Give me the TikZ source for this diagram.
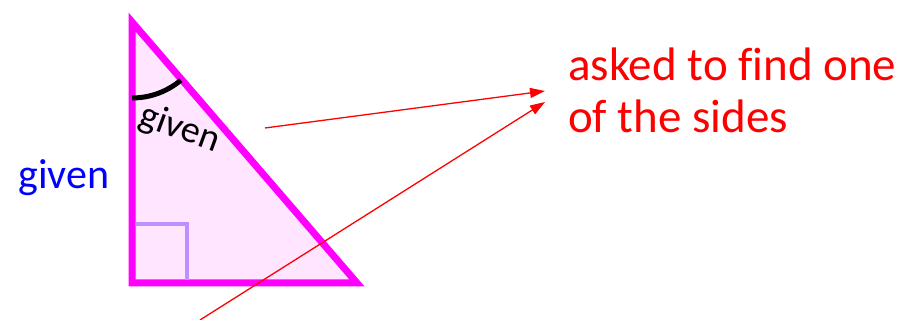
\documentclass[tikz,border=0pt]{standalone}
\usepackage{fontspec}
\setmainfont{Carlito}
\usetikzlibrary{arrows.meta,positioning,calc}

\definecolor{triedge}{RGB}{255,0,255}
\definecolor{trifill}{RGB}{255,229,255}
\definecolor{rightmark}{RGB}{191,143,255}

\begin{document}
\begin{tikzpicture}[x=1pt,y=1pt,>={Triangle[length=15pt,width=10pt]},
  given/.style={inner sep=0pt,font=\fontsize{#1}{#1}\selectfont},
  pointer/.style={->,red,line width=1.3pt}]
\useasboundingbox (0,0) rectangle (906,320);
% triangle with right angle at bottom left
\coordinate (top) at (132,298);
\coordinate (bl) at (132,37);
\coordinate (br) at (357,37);
\draw[triedge,fill=trifill,line width=7pt] (top) -- (bl) -- (br) -- cycle;
\draw[rightmark,line width=4.5pt] (135,96) -- (187,96) -- (187,40);
\draw[black,line width=5pt] ($(top)+(0,-76)$) arc[start angle=-90,end angle=-50,radius=76];
\node[given=38,rotate=-20] (anglab) at (180,191) {given};
\node[given=42,blue] (sidelab) at (64,142) {given};
\node[inner sep=0pt,anchor=north west,align=left,red,
  font=\fontsize{47}{52}\selectfont] (asked) at (568,272) {asked to f\kern0pt ind one\\of the sides};
% pointers
\coordinate (from1) at (265,192);
\coordinate (to1) at (545,229);
\coordinate (from2) at (200,0);
\coordinate (to2) at (545,218);
\draw[pointer] (from1) -- (to1);
\draw[pointer] (from2) -- (to2);
\end{tikzpicture}
\end{document}
